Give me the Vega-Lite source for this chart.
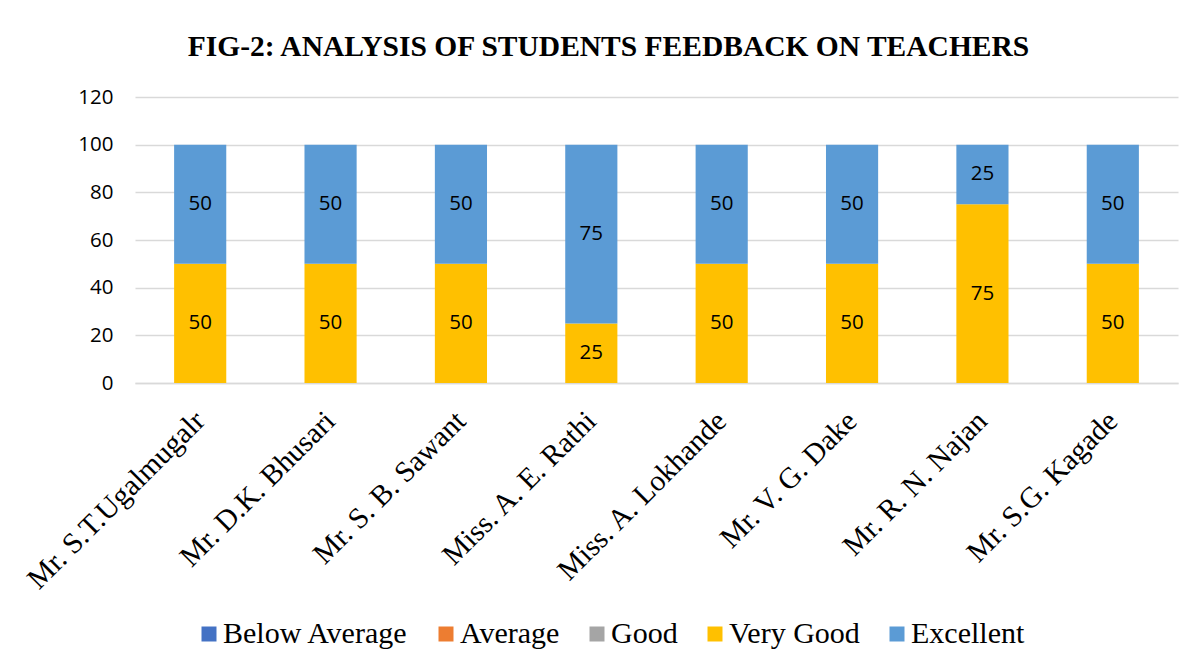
{
  "$schema": "https://vega.github.io/schema/vega-lite/v6.json",
  "width": 1043,
  "height": 286,
  "autosize": {"type": "none"},
  "padding": {"left": 135, "top": 97, "right": 22, "bottom": 288},
  "background": "white",
  "config": {"view": {"stroke": null}},
  "title": {
    "text": "FIG-2: ANALYSIS OF STUDENTS FEEDBACK ON TEACHERS",
    "font": "Liberation Serif",
    "fontSize": 29.5,
    "fontWeight": "bold",
    "color": "#000000",
    "anchor": "middle",
    "dx": -48,
    "offset": 25
  },
  "data": {
    "values": [
      {"teacher": "Mr. S.T.Ugalmugalr", "rating": "Very Good", "rank": 4, "value": 50},
      {"teacher": "Mr. S.T.Ugalmugalr", "rating": "Excellent", "rank": 5, "value": 50},
      {"teacher": "Mr. D.K. Bhusari", "rating": "Very Good", "rank": 4, "value": 50},
      {"teacher": "Mr. D.K. Bhusari", "rating": "Excellent", "rank": 5, "value": 50},
      {"teacher": "Mr. S. B. Sawant", "rating": "Very Good", "rank": 4, "value": 50},
      {"teacher": "Mr. S. B. Sawant", "rating": "Excellent", "rank": 5, "value": 50},
      {"teacher": "Miss. A. E. Rathi", "rating": "Very Good", "rank": 4, "value": 25},
      {"teacher": "Miss. A. E. Rathi", "rating": "Excellent", "rank": 5, "value": 75},
      {"teacher": "Miss. A. Lokhande", "rating": "Very Good", "rank": 4, "value": 50},
      {"teacher": "Miss. A. Lokhande", "rating": "Excellent", "rank": 5, "value": 50},
      {"teacher": "Mr. V. G. Dake", "rating": "Very Good", "rank": 4, "value": 50},
      {"teacher": "Mr. V. G. Dake", "rating": "Excellent", "rank": 5, "value": 50},
      {"teacher": "Mr. R. N. Najan", "rating": "Very Good", "rank": 4, "value": 75},
      {"teacher": "Mr. R. N. Najan", "rating": "Excellent", "rank": 5, "value": 25},
      {"teacher": "Mr. S.G. Kagade", "rating": "Very Good", "rank": 4, "value": 50},
      {"teacher": "Mr. S.G. Kagade", "rating": "Excellent", "rank": 5, "value": 50}
    ]
  },
  "transform": [
    {"stack": "value", "groupby": ["teacher"], "sort": [{"field": "rank", "order": "ascending"}], "as": ["y0", "y1"]}
  ],
  "encoding": {
    "x": {
      "field": "teacher",
      "type": "nominal",
      "sort": null,
      "title": null,
      "scale": {"paddingInner": 0.6, "paddingOuter": 0.3},
      "axis": {
        "labelAngle": -45,
        "labelAlign": "right",
        "labelBaseline": "middle",
        "labelFont": "Liberation Serif",
        "labelFontSize": 29.5,
        "labelColor": "#000000",
        "labelPadding": 33,
        "ticks": false,
        "domainColor": "#d9d9d9",
        "domainWidth": 1.5,
        "labelLimit": 400
      }
    }
  },
  "layer": [
    {
      "mark": {"type": "bar"},
      "encoding": {
        "y": {
          "field": "y0",
          "type": "quantitative",
          "title": null,
          "scale": {"domain": [0, 120]},
          "axis": {
            "values": [0, 20, 40, 60, 80, 100, 120],
            "domain": false,
            "ticks": false,
            "gridColor": "#d9d9d9",
            "gridWidth": 1.5,
            "labelFont": "Open Sans",
            "labelFontSize": 20.5,
            "labelColor": "#000000",
            "labelPadding": 22
          }
        },
        "y2": {"field": "y1"},
        "color": {
          "field": "rating",
          "type": "nominal",
          "title": null,
          "scale": {
            "domain": ["Below Average", "Average", "Good", "Very Good", "Excellent"],
            "range": ["#4472C4", "#ED7D31", "#A5A5A5", "#FFC000", "#5B9BD5"]
          },
          "legend": {
            "orient": "none",
            "direction": "horizontal",
            "legendX": 59,
            "legendY": 522,
            "symbolType": "square",
            "symbolSize": 225,
            "symbolStrokeWidth": 0,
            "symbolOpacity": 1,
            "labelFont": "Liberation Serif",
            "labelFontSize": 30,
            "labelColor": "#000000",
            "labelOffset": -1,
            "columnPadding": 22,
            "padding": 0,
            "labelLimit": 400
          }
        }
      }
    },
    {
      "transform": [
        {"fold": ["y0", "y1"], "as": ["edge", "pos"]},
        {"aggregate": [{"op": "mean", "field": "pos", "as": "mid"}, {"op": "max", "field": "value", "as": "label"}], "groupby": ["teacher", "rating"]}
      ],
      "mark": {"type": "text", "font": "Open Sans", "fontSize": 20.5, "color": "#000000", "baseline": "middle"},
      "encoding": {
        "y": {"field": "mid", "type": "quantitative"},
        "text": {"field": "label", "type": "quantitative"}
      }
    }
  ]
}
